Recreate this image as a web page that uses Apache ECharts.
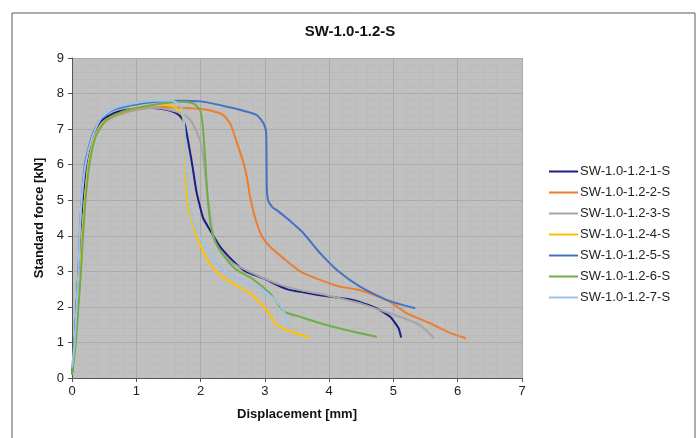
<!DOCTYPE html>
<html>
<head>
<meta charset="utf-8">
<script src="https://cdn.jsdelivr.net/npm/echarts@6/dist/echarts.min.js"></script>
<style>
    html, body { margin: 0; padding: 0; background: #fff; }
    #chart { width: 700px; height: 438px; }
</style>
</head>
<body>
<div id="chart"></div>
<script>
// displacement [mm], force [kN]
const sw1 = [[0,0.1],[0.04,1],[0.07,2],[0.1,3],[0.13,4],[0.17,5],[0.22,6],[0.32,6.8],[0.45,7.22],[0.65,7.45],[0.9,7.56],[1.2,7.6],[1.45,7.55],[1.62,7.45],[1.71,7.3],[1.76,7.1],[1.87,6.0],[1.93,5.3],[1.98,4.9],[2.04,4.5],[2.15,4.15],[2.3,3.7],[2.5,3.3],[2.7,3.0],[2.98,2.8],[3.34,2.5],[3.86,2.33],[4.38,2.19],[4.74,1.96],[4.95,1.72],[5.08,1.4],[5.12,1.14]];
const sw2 = [[0,0.1],[0.05,1],[0.09,2],[0.13,3],[0.16,4],[0.2,5],[0.26,6],[0.36,6.8],[0.52,7.22],[0.8,7.45],[1.1,7.57],[1.4,7.62],[1.7,7.6],[2.0,7.57],[2.2,7.5],[2.35,7.4],[2.46,7.16],[2.56,6.65],[2.66,6.1],[2.72,5.66],[2.77,5.1],[2.85,4.5],[2.95,4.0],[3.08,3.69],[3.3,3.35],[3.55,3.0],[3.86,2.76],[4.17,2.57],[4.48,2.47],[4.9,2.19],[5.21,1.82],[5.57,1.54],[5.88,1.27],[6.13,1.12]];
const sw3 = [[0,0.1],[0.05,1],[0.09,2],[0.13,3],[0.16,4],[0.2,5],[0.26,6],[0.36,6.8],[0.52,7.22],[0.8,7.47],[1.1,7.58],[1.3,7.6],[1.55,7.52],[1.75,7.4],[1.86,7.21],[1.99,6.69],[2.04,6.22],[2.1,5.29],[2.14,4.72],[2.2,3.95],[2.3,3.6],[2.51,3.22],[2.82,2.94],[3.24,2.62],[3.6,2.45],[3.96,2.33],[4.48,2.1],[4.79,1.91],[5.1,1.72],[5.41,1.49],[5.63,1.12]];
const sw4 = [[0,0.1],[0.05,1],[0.09,2],[0.13,3],[0.16,4],[0.2,5],[0.26,6],[0.36,6.8],[0.52,7.25],[0.8,7.5],[1.1,7.63],[1.37,7.7],[1.55,7.65],[1.66,7.55],[1.71,7.44],[1.74,7.16],[1.76,6.22],[1.78,5.29],[1.82,4.72],[1.89,4.3],[1.97,3.85],[2.04,3.55],[2.15,3.2],[2.3,2.9],[2.56,2.6],[2.77,2.38],[2.98,2.01],[3.1,1.72],[3.18,1.49],[3.34,1.35],[3.7,1.13]];
const sw5 = [[0,0.1],[0.04,1],[0.07,2],[0.1,3],[0.12,4],[0.15,5],[0.2,6],[0.31,6.8],[0.44,7.26],[0.64,7.54],[0.95,7.68],[1.32,7.77],[1.7,7.8],[2.0,7.78],[2.41,7.63],[2.87,7.4],[2.98,7.16],[3.02,6.9],[3.03,5.4],[3.05,5.0],[3.12,4.8],[3.2,4.7],[3.39,4.42],[3.6,4.07],[3.86,3.51],[4.12,3.04],[4.48,2.57],[4.9,2.19],[5.34,1.96]];
const sw6 = [[0,0.1],[0.06,1],[0.1,2],[0.14,3],[0.17,4],[0.21,5],[0.27,6],[0.37,6.8],[0.53,7.25],[0.8,7.5],[1.1,7.63],[1.4,7.72],[1.7,7.77],[1.89,7.72],[1.99,7.54],[2.03,7.16],[2.07,6.22],[2.1,5.29],[2.13,4.7],[2.16,4.26],[2.25,3.75],[2.41,3.32],[2.56,3.04],[2.8,2.8],[3.08,2.38],[3.31,1.86],[3.55,1.72],[3.96,1.49],[4.38,1.3],[4.74,1.16]];
const sw7 = [[0,0.3],[0.04,1],[0.07,2],[0.1,3],[0.12,4],[0.15,5],[0.21,6],[0.32,6.8],[0.45,7.3],[0.65,7.58],[0.95,7.72],[1.3,7.8],[1.55,7.8],[1.65,7.72],[1.71,7.58],[1.74,7.26],[1.77,6.22],[1.81,5.29],[1.86,4.6],[1.94,4.16],[2.02,3.85],[2.15,3.5],[2.35,3.04],[2.66,2.72],[2.92,2.52],[3.13,2.24],[3.29,1.91],[3.34,1.63],[3.37,1.44]];

const names = ['SW-1.0-1.2-1-S', 'SW-1.0-1.2-2-S', 'SW-1.0-1.2-3-S', 'SW-1.0-1.2-4-S', 'SW-1.0-1.2-5-S', 'SW-1.0-1.2-6-S', 'SW-1.0-1.2-7-S'];
const curves = [sw1, sw2, sw3, sw4, sw5, sw6, sw7];
const colors = ['#1c1c86', '#ED7D31', '#A5A5A5', '#FFC000', '#4472C4', '#70AD47', '#9DC3E6'];

const chart = echarts.init(document.getElementById('chart'));
const font = 'Liberation Sans, Arial, sans-serif';

const option = {
    animation: false,
    textStyle: { fontFamily: font },
    title: {
        text: 'SW-1.0-1.2-S',
        left: 'center',
        top: 19,
        textStyle: { fontSize: 15, fontWeight: 'bold', color: '#111', fontFamily: font }
    },
    graphic: [{
        type: 'rect',
        shape: { x: 12, y: 13, width: 683, height: 450 },
        style: { fill: 'none', stroke: '#5a5a5a', lineWidth: 1 },
        silent: true
    }],
    legend: {
        orient: 'vertical',
        left: 544,
        top: 160,
        icon: 'rect',
        itemWidth: 29,
        itemHeight: 2,
        itemGap: 8,
        data: names,
        textStyle: { fontSize: 13, color: '#222', fontFamily: font, padding: [0, 0, 0, -3] }
    },
    grid: {
        left: 72,
        right: 178,
        top: 58,
        bottom: 60,
        show: true,
        backgroundColor: '#c0c0c0',
        borderWidth: 0
    },
    xAxis: {
        type: 'value',
        min: 0,
        max: 7,
        interval: 1,
        name: 'Displacement [mm]',
        nameLocation: 'middle',
        nameGap: 30,
        nameTextStyle: { fontSize: 13, fontWeight: 'bold', color: '#111' },
        axisLine: { lineStyle: { color: '#555', width: 1 } },
        axisTick: { show: true, length: 4, lineStyle: { color: '#555' } },
        axisLabel: { fontSize: 13, color: '#222', margin: 7 },
        splitLine: { show: true, lineStyle: { color: '#aaaaaa', width: 1 } },
        minorTick: { show: false, splitNumber: 5 },
        minorSplitLine: { show: true, lineStyle: { color: '#bbbbbb', width: 1 } }
    },
    yAxis: {
        type: 'value',
        min: 0,
        max: 9,
        interval: 1,
        name: 'Standard force [kN]',
        nameLocation: 'middle',
        nameGap: 24,
        nameTextStyle: { fontSize: 13, fontWeight: 'bold', color: '#111' },
        axisLine: { show: true, lineStyle: { color: '#555', width: 1 } },
        axisTick: { show: true, length: 4, lineStyle: { color: '#555' } },
        axisLabel: { fontSize: 13, color: '#222', margin: 8 },
        splitLine: { show: true, lineStyle: { color: '#aaaaaa', width: 1 } },
        minorTick: { show: false, splitNumber: 5 },
        minorSplitLine: { show: true, lineStyle: { color: '#bbbbbb', width: 1 } }
    },
    series: curves.map((d, i) => ({
        name: names[i],
        type: 'line',
        data: d,
        showSymbol: false,
        symbol: 'none',
        smooth: 0.2,
        color: colors[i],
        lineStyle: { width: 2, color: colors[i] }
    }))
};

chart.setOption(option);
</script>
</body>
</html>
